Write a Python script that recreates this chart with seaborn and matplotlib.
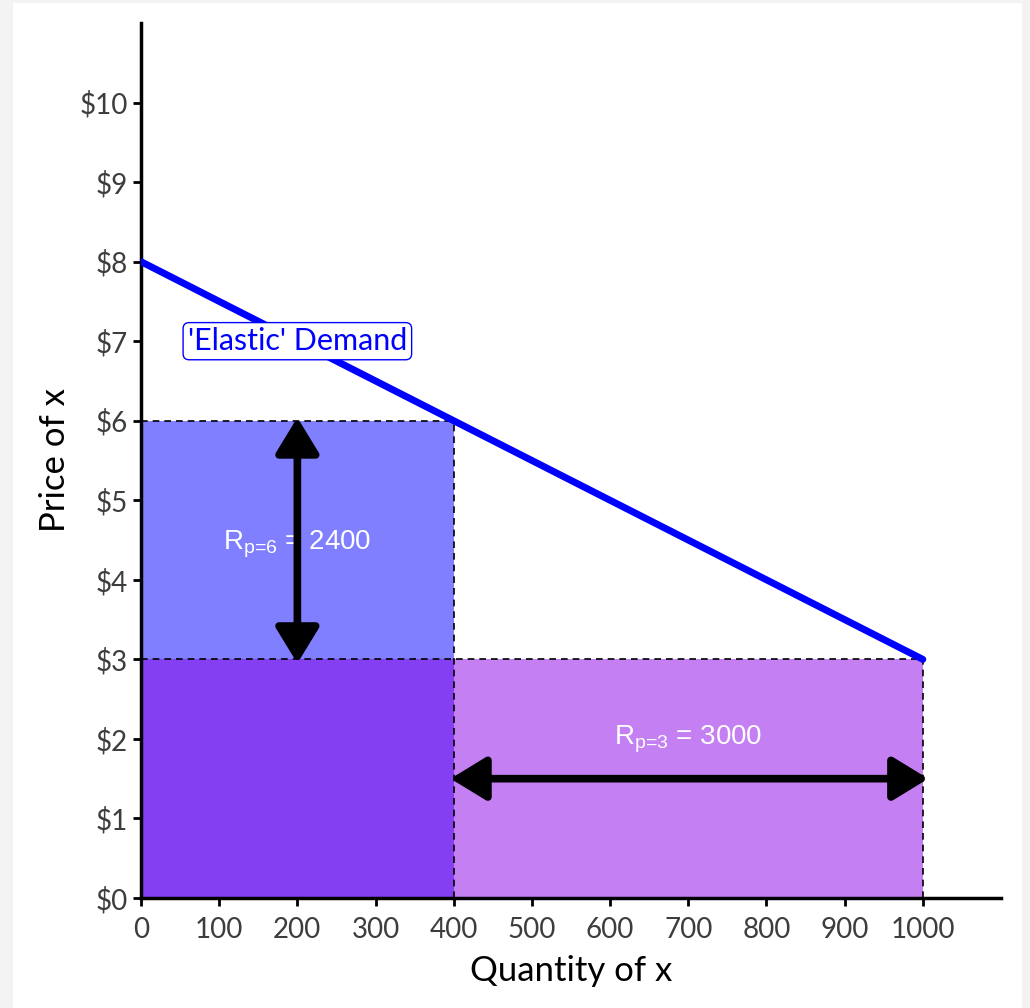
import matplotlib
matplotlib.use("Agg")
import matplotlib.pyplot as plt
import seaborn as sns
import pandas as pd
from matplotlib.patches import Rectangle

# demand curve end points
demand_q = [0, 1000]
demand_p = [8, 3]

# the two price / quantity points
prices = [6, 3]
quantities = [400, 1000]

x_ticks = [0, 100, 200, 300, 400, 500, 600, 700, 800, 900, 1000]
y_ticks = [0, 1, 2, 3, 4, 5, 6, 7, 8, 9, 10]

sns.set_theme(style="ticks")
plt.rcParams['font.family'] = ['Lato', 'DejaVu Sans']
plt.rcParams['mathtext.fontset'] = 'custom'
plt.rcParams['mathtext.rm'] = 'Liberation Sans'
plt.rcParams['mathtext.it'] = 'Liberation Sans'
plt.rcParams['mathtext.default'] = 'rm'

fig = plt.figure(figsize=(10.30, 10.08), dpi=100, facecolor='#f3f3f3')
fig.add_artist(Rectangle((13 / 1030, 0), (1022 - 13) / 1030, 1 - 3 / 1008,
                         transform=fig.transFigure, facecolor='white',
                         edgecolor='none', zorder=-10))
ax = fig.add_axes([141 / 1030, 110 / 1008, 860 / 1030, 875 / 1008])
ax.set_facecolor('white')

p_hi, p_lo = prices
q_hi, q_lo = quantities

# revenue rectangles
ax.fill_between([0, q_hi], 0, p_hi, color='blue', alpha=0.5, lw=0, zorder=1)
ax.fill_between([0, q_lo], 0, p_lo, color='#8a00e6', alpha=0.5, lw=0, zorder=1)

# dashed guides
dash = dict(color='black', lw=1.2, ls=(0, (4, 3)), zorder=2)
ax.plot([0, q_hi], [p_hi, p_hi], **dash)
ax.plot([0, q_lo], [p_lo, p_lo], **dash)
ax.plot([q_hi, q_hi], [0, p_hi], **dash)
ax.plot([q_lo, q_lo], [0, p_lo], **dash)

# demand line
demand = pd.DataFrame({'q': demand_q, 'p': demand_p})
sns.lineplot(data=demand, x='q', y='p', color='blue', lw=5, ax=ax, zorder=3)

# arrows (tips reach a few pixels past the rectangle edges, as in the original)
arrow = dict(arrowstyle='<|-|>,head_length=0.9,head_width=0.55', color='black',
             lw=5.5, mutation_scale=24, shrinkA=0, shrinkB=0, joinstyle='round')
ax.annotate('', xy=(q_hi / 2, p_lo - 0.05), xytext=(q_hi / 2, p_hi + 0.04),
            arrowprops=arrow, zorder=4)
ax.annotate('', xy=(q_hi - 4, p_lo / 2), xytext=(q_lo + 7, p_lo / 2),
            arrowprops=arrow, zorder=4)

# revenue labels
ax.text(q_hi / 2, (p_hi + p_lo) / 2 - 0.05, r'$R_{\text{p=6}}$ = %d' % (p_hi * q_hi),
        color='white', fontsize=20, ha='center', va='center',
        family='Liberation Sans', zorder=3)
ax.text((q_hi + q_lo) / 2, 2.0, r'$R_{\text{p=3}}$ = %d' % (p_lo * q_lo),
        color='white', fontsize=20, ha='center', va='center',
        family='Liberation Sans', zorder=3)

ax.text(q_hi / 2, 7.0, "'Elastic' Demand", color='blue', fontsize=22,
        ha='center', va='center', zorder=5,
        bbox=dict(boxstyle='round,pad=0.15,rounding_size=0.2', fc='white',
                  ec='blue', lw=1))

ax.set_xlim(0, 1100)
ax.set_ylim(0, 11)
ax.set_xticks(x_ticks)
ax.set_yticks(y_ticks)
ax.set_yticklabels(['$%d' % v for v in y_ticks])
ax.tick_params(labelsize=20, colors='#3d3d3d', length=6, width=2)
ax.tick_params(axis='x', pad=8)
ax.tick_params(axis='both', color='black')
for s in ['left', 'bottom']:
    ax.spines[s].set_linewidth(2.5)
    ax.spines[s].set_color('black')
sns.despine(ax=ax)
ax.set_xlabel('Quantity of x', fontsize=25, color='black', labelpad=8)
ax.set_ylabel('Price of x', fontsize=25, color='black', labelpad=6)

fig.savefig('out.png', dpi=100, facecolor=fig.get_facecolor())
